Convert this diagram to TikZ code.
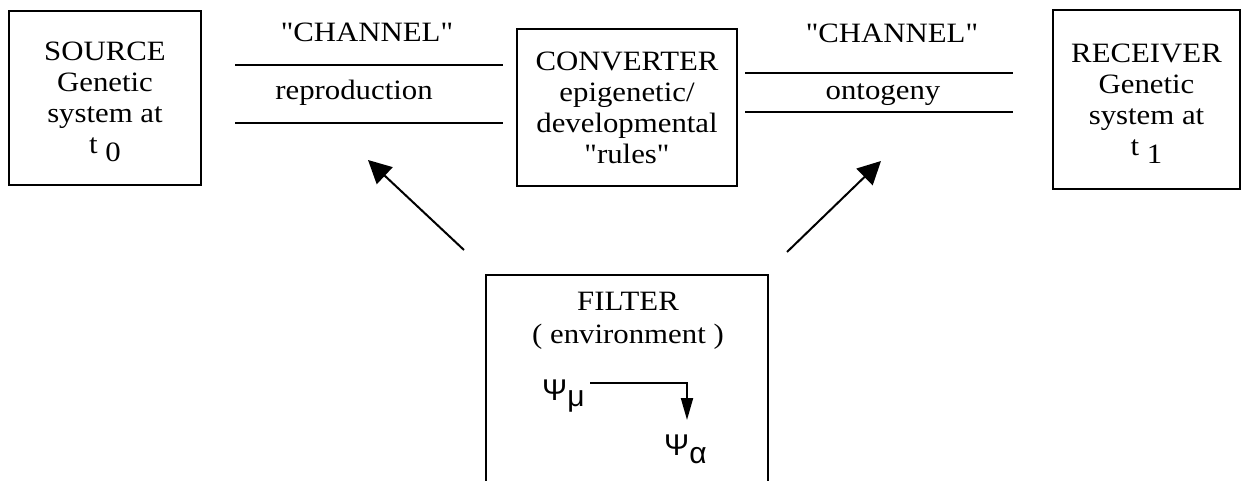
\documentclass[tikz,border=0pt]{standalone}
\usepackage{fontspec}
\setmainfont{Liberation Serif}[Ligatures=TeXOff,FakeStretch=1.1]
\newfontfamily\psifont{Liberation Sans}
\usetikzlibrary{positioning,arrows.meta}
\tikzset{
  unitbox/.style={draw,line width=2pt,align=center,inner sep=0pt},
  chline/.style={line width=2pt},
  bigarrow/.style={line width=2pt,-{Triangle[length=23pt,width=23pt]}},
  smallarrow/.style={line width=2pt,-{Triangle[length=22pt,width=12pt]}},
  lbl/.style={anchor=base,inner sep=0pt}
}
\newcommand{\tsub}[1]{t\ \raisebox{-8pt}[0pt][0pt]{#1}}
\begin{document}
\begin{tikzpicture}[x=1pt,y=-1pt,font=\fontsize{28}{31}\selectfont]
  \clip (0,0) rectangle (1247,481);
  % the four units
  \node[unitbox,minimum width=192pt,minimum height=174pt] (source) at (105,98)
    {SOURCE\\Genetic\\system at\\\tsub{0}};
  \node[unitbox,minimum width=220pt,minimum height=157pt] (converter) at (627,107.5)
    {CONVERTER\\epigenetic/\\developmental\\"rules"};
  \node[unitbox,minimum width=187pt,minimum height=179pt] (receiver) at (1146.5,99.5)
    {RECEIVER\\Genetic\\system at\\\tsub{1}};
  \node[unitbox,minimum width=282pt,minimum height=225pt] (filter) at (627,387.5) {};
  % channels
  \coordinate (la1) at (235,65);  \coordinate (lb1) at (503,65);
  \coordinate (la2) at (235,123); \coordinate (lb2) at (503,123);
  \coordinate (ra1) at (745,73);  \coordinate (rb1) at (1013,73);
  \coordinate (ra2) at (745,112); \coordinate (rb2) at (1013,112);
  \draw[chline] (la1) -- (lb1);
  \draw[chline] (la2) -- (lb2);
  \draw[chline] (ra1) -- (rb1);
  \draw[chline] (ra2) -- (rb2);
  \node[lbl] (chanl) at (367,42) {"CHANNEL"};
  \node[lbl] (repro) at (354,100) {reproduction};
  \node[lbl] (chanr) at (892,43) {"CHANNEL"};
  \node[lbl] (onto) at (883,100) {ontogeny};
  % filter contents
  \node[lbl] (filtername) at (628,310) {FILTER};
  \node[lbl] (filterenv) at (628,343) {( environment )};
  \node[anchor=base west,inner sep=0pt] (psimu) at (542,400)
    {\psifont\fontsize{30}{30}\selectfont Ψ\raisebox{-6pt}{μ}};
  \node[anchor=base west,inner sep=0pt] (psial) at (664,455)
    {\psifont\fontsize{30}{30}\selectfont Ψ\raisebox{-8pt}{α}};
  \coordinate (bendin) at (590,383);
  \coordinate (bendout) at (687,420);
  \draw[smallarrow] (bendin) -| (bendout);
  % influence of the filter
  \coordinate (lfoot) at (464,250); \coordinate (ltip) at (368,160);
  \coordinate (rfoot) at (787,252); \coordinate (rtip) at (881,161);
  \draw[bigarrow] (lfoot) -- (ltip);
  \draw[bigarrow] (rfoot) -- (rtip);
\end{tikzpicture}
\end{document}
